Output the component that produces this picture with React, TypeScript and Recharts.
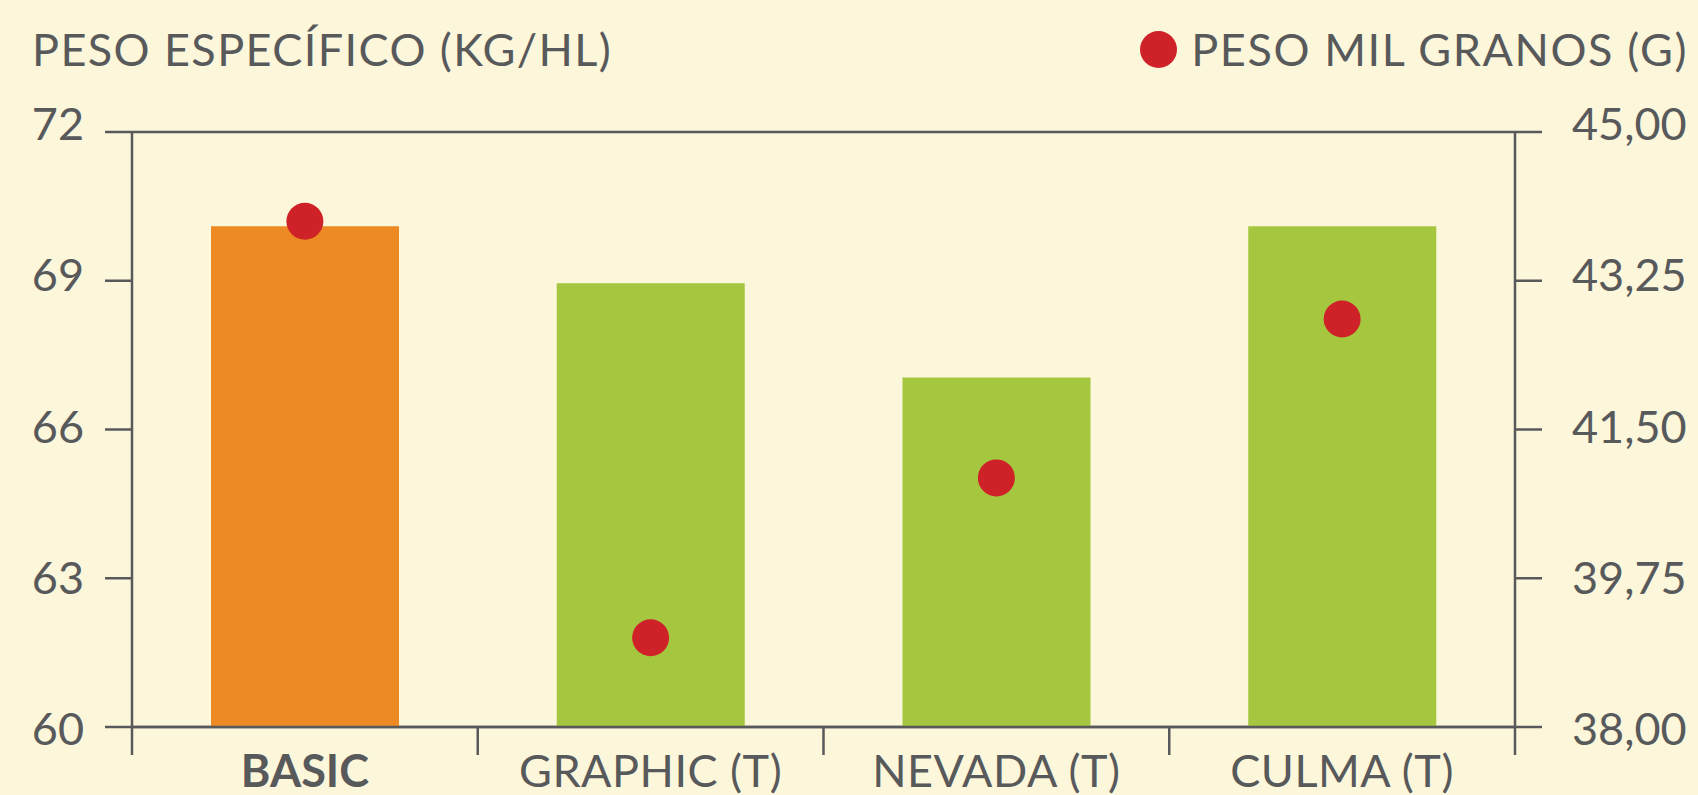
import React from 'react';
import { ComposedChart, Bar, Scatter, Cell, XAxis, YAxis, CartesianGrid, Legend } from 'recharts';

const categories = ['BASIC', 'GRAPHIC (T)', 'NEVADA (T)', 'CULMA (T)'];
const pesoEspecifico = [70.1, 68.95, 67.05, 70.1];
const pesoMilGranos = [43.95, 39.05, 40.93, 42.8];
const leftTicks = [60, 63, 66, 69, 72];
const rightTicks = [38, 39.75, 41.5, 43.25, 45];

const data = categories.map((name, i) => ({
  name,
  peso: pesoEspecifico[i],
  mil: pesoMilGranos[i],
}));

const BG = '#FCF6DA';
const GREY = '#58595B';
const ORANGE = '#EE8A24';
const GREEN = '#A5C63F';
const RED = '#CF2128';
const FONT = 'Lato, "Open Sans", sans-serif';
const BAND = (1698 - 132 - 183) / categories.length;

const YTick = (props: any) => {
  const { x, y, payload, index, textAnchor, formatter } = props;
  const dy = 16 + 2 - index * 2.5;
  return (
    <text x={x} y={y + dy} textAnchor={textAnchor} fill={GREY} fontSize={45} fontFamily={FONT}>
      {formatter ? formatter(payload.value) : payload.value}
    </text>
  );
};

const XTick = (props: any) => {
  const { x, y, payload, index } = props;
  const last = index === categories.length - 1;
  return (
    <g>
      <line x1={x - BAND / 2} x2={x - BAND / 2} y1={y} y2={y + 28} stroke={GREY} strokeWidth={2.5} />
      {last && <line x1={x + BAND / 2} x2={x + BAND / 2} y1={y} y2={y + 28} stroke={GREY} strokeWidth={2.5} />}
      <text
        x={x}
        y={y + 60}
        textAnchor="middle"
        fill={GREY}
        fontSize={45}
        fontFamily={FONT}
        fontWeight={index === 0 ? 700 : 400}
        letterSpacing={index === 0 ? 0 : 0.5}
      >
        {payload.value}
      </text>
    </g>
  );
};

const Dot = (props: any) => <circle cx={props.cx} cy={props.cy} r={18.5} fill={RED} />;

const LegendContent = () => (
  <div style={{ position: 'relative', width: 1698, height: 100, fontFamily: FONT, color: GREY }}>
    <div
      style={{
        position: 'absolute',
        left: 32,
        top: 27,
        fontSize: 45,
        lineHeight: 1,
        letterSpacing: 1.4,
        whiteSpace: 'nowrap',
      }}
    >
      PESO ESPECÍFICO (KG/HL)
    </div>
    <div
      style={{
        position: 'absolute',
        right: 10,
        top: 27,
        display: 'flex',
        alignItems: 'center',
        fontSize: 45,
        lineHeight: 1,
        letterSpacing: 1.6,
        whiteSpace: 'nowrap',
      }}
    >
      <span
        style={{ display: 'inline-block', width: 37, height: 37, borderRadius: '50%', background: RED, marginRight: 14 }}
      />
      PESO MIL GRANOS (G)
    </div>
  </div>
);

export default function App() {
  return (
    <div style={{ position: 'absolute', top: 0, left: 0, width: 1698, height: 795, background: BG }}>
      <ComposedChart width={1698} height={795} data={data} margin={{ top: 132, right: 0, bottom: 0, left: 0 }}>
        <CartesianGrid horizontal vertical={false} stroke={GREY} strokeWidth={2.5} />
        <XAxis
          dataKey="name"
          height={68}
          tickSize={0}
          tickMargin={0}
          tickLine={false}
          axisLine={{ stroke: GREY, strokeWidth: 2.5 }}
          tick={<XTick />}
        />
        <YAxis
          yAxisId="left"
          orientation="left"
          width={132}
          domain={[60, 72]}
          ticks={leftTicks}
          tickSize={27}
          tickMargin={21}
          tickLine={{ stroke: GREY, strokeWidth: 2.5 }}
          axisLine={{ stroke: GREY, strokeWidth: 2.5 }}
          tick={<YTick />}
        />
        <YAxis
          yAxisId="right"
          orientation="right"
          width={183}
          domain={[38, 45]}
          ticks={rightTicks}
          tickSize={27}
          tickMargin={30}
          tickLine={{ stroke: GREY, strokeWidth: 2.5 }}
          axisLine={{ stroke: GREY, strokeWidth: 2.5 }}
          tick={<YTick formatter={(v: number) => v.toFixed(2).replace('.', ',')} />}
        />
        <Legend
          layout="vertical"
          align="center"
          verticalAlign="middle"
          wrapperStyle={{ top: 0, left: 0, width: 1698, height: 100 }}
          content={<LegendContent />}
        />
        <Bar yAxisId="left" dataKey="peso" barSize={188} isAnimationActive={false} legendType="none">
          {data.map((d, i) => (
            <Cell key={d.name} fill={i === 0 ? ORANGE : GREEN} />
          ))}
        </Bar>
        <Scatter yAxisId="right" dataKey="mil" fill={RED} shape={<Dot />} isAnimationActive={false} />
      </ComposedChart>
    </div>
  );
}
